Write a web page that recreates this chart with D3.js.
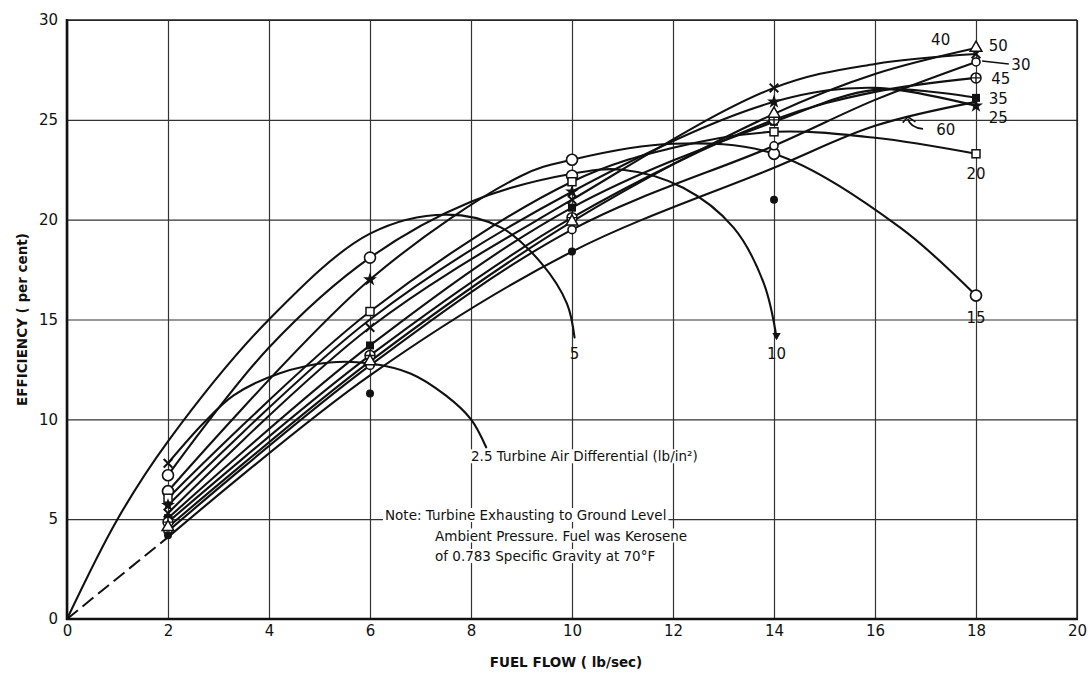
<!DOCTYPE html>
<html>
<head>
<meta charset="utf-8">
<script src="https://cdn.jsdelivr.net/npm/d3@7"></script>
<style>
  html, body { margin: 0; padding: 0; background: #fff; }
  svg { display: block; }
  text { font-family: "DejaVu Sans", sans-serif; fill: #111; }
</style>
</head>
<body>
<svg id="chart" width="1090" height="674"></svg>
<script>
// ---------------- DATA ----------------
const xTicks = [0, 2, 4, 6, 8, 10, 12, 14, 16, 18, 20];
const yTicks = [0, 5, 10, 15, 20, 25, 30];
const seriesNames = ["2.5", "5", "10", "15", "20", "25", "30", "35", "40", "45", "50", "60"];
const markerShapes = ["cross", "none", "circle", "bigCircle", "square", "starFill", "circle", "squareFill", "cross", "circlePlus", "triangle", "dot"];

// curve paths (fuel flow lb/sec, efficiency %)
const curve2_5 = [[2,7.8],[2.7,9.8],[3.3,11.2],[4.2,12.3],[5.2,12.85],[6,12.8],[6.8,12.3],[7.5,11.2],[8.0,10.0],[8.3,8.6]];
const curve5   = [[0,0],[1,5.0],[2,8.9],[4,15.0],[6,19.3],[7.5,20.25],[8.6,19.6],[9.4,17.8],[9.9,15.8],[10.05,14.1]];
const curve10  = [[2,7.2],[4,13.6],[6,18.1],[8,20.9],[10,22.3],[11,22.5],[12.2,21.6],[13.2,19.6],[13.8,16.8],[14.05,14.1]];
const curve15  = [[2,6.4],[6,17.0],[9,22.2],[10,23.0],[12,23.8],[14,23.3],[16.5,19.6],[18,16.2]];
const curve20  = [[2,6.05],[6,15.4],[10,21.9],[12,23.6],[14,24.4],[16,24.1],[18,23.3]];
const curve25  = [[2,5.7],[6,15.0],[10,21.4],[14,25.9],[16,26.6],[18,25.7]];
const curve30  = [[2,4.4],[6,12.7],[10,19.5],[14,23.7],[16,26.0],[18,27.9]];
const curve35  = [[2,5.05],[6,13.7],[10,20.6],[14,24.9],[16,26.5],[18,26.1]];
const curve40  = [[2,5.3],[6,14.6],[10,21.0],[14,26.6],[16,27.8],[18,28.3]];
const curve45  = [[2,4.85],[6,13.2],[10,20.1],[14,25.0],[16,26.4],[18,27.1]];
const curve50  = [[2,4.6],[6,12.9],[10,19.9],[14,25.3],[16,27.3],[18,28.6]];
const curve60  = [[2,4.1],[6,12.2],[10,18.4],[14,22.6],[16,24.7],[18,25.9]];
const curve60Dashed = [[0,0],[2,4.1]];

// measured points (markers)
const marks2_5 = [[2,7.8],[6,12.85]];
const marks5   = [];
const marks10  = [[2,7.2],[6,18.1],[10,22.2]];
const marks15  = [[2,6.4],[10,23.0],[14,23.3],[18,16.2]];
const marks20  = [[2,6.05],[6,15.4],[10,21.9],[14,24.4],[18,23.3]];
const marks25  = [[2,5.7],[6,17.0],[10,21.4],[14,25.9],[18,25.7]];
const marks30  = [[2,4.4],[6,12.7],[10,19.5],[14,23.7],[18,27.9]];
const marks35  = [[2,5.05],[6,13.7],[10,20.6],[14,24.9],[18,26.1]];
const marks40  = [[2,5.3],[6,14.6],[10,21.0],[14,26.6],[18,28.3]];
const marks45  = [[2,4.85],[6,13.2],[10,20.1],[14,25.0],[18,27.1]];
const marks50  = [[2,4.6],[6,12.9],[10,19.9],[14,25.3],[18,28.6]];
const marks60  = [[2,4.2],[6,11.3],[10,18.4],[14,21.0]];

// curve end labels: [text, x, y] in data units
const endLabels = [
  ["40", 17.3, 29.0], ["50", 18.25, 28.7], ["30", 18.7, 27.75], ["45", 18.3, 27.05],
  ["35", 18.25, 26.05], ["25", 18.25, 25.1], ["60", 17.4, 24.5], ["20", 18.0, 22.3],
  ["15", 18.0, 15.1], ["5", 10.05, 13.3], ["10", 14.05, 13.3]
];

const noteLines = ["Note: Turbine Exhausting to Ground Level", "Ambient Pressure. Fuel was Kerosene", "of 0.783 Specific Gravity at 70\u00B0F"];

// ---------------- CHART ----------------
const curves = [curve2_5, curve5, curve10, curve15, curve20, curve25, curve30, curve35, curve40, curve45, curve50, curve60];
const marks = [marks2_5, marks5, marks10, marks15, marks20, marks25, marks30, marks35, marks40, marks45, marks50, marks60];
const table = seriesNames.map((n, i) => ({ name: n, pts: curves[i], marks: marks[i], shape: markerShapes[i] }));

const svg = d3.select("#chart");
const L = 67, R = 1077, T = 20, B = 619;
const x = d3.scaleLinear().domain([0, 20]).range([L, R]);
const y = d3.scaleLinear().domain([0, 30]).range([B, T]);

// grid via axes
const gx = svg.append("g").attr("transform", `translate(0,${B})`)
  .call(d3.axisBottom(x).tickValues(xTicks).tickSize(-(B - T)).tickFormat(d => d));
gx.select(".domain").remove();
gx.selectAll(".tick line").attr("stroke", "#333").attr("stroke-width", 1.2);
gx.selectAll(".tick text").attr("font-size", 15).attr("dy", "0.9em").attr("fill", "#111");

const gy = svg.append("g").attr("transform", `translate(${L},0)`)
  .call(d3.axisLeft(y).tickValues(yTicks).tickSize(-(R - L)).tickFormat(d => d));
gy.select(".domain").remove();
gy.selectAll(".tick line").attr("stroke", "#333").attr("stroke-width", 1.2);
gy.selectAll(".tick text").attr("font-size", 15).attr("x", -9).attr("fill", "#111");

// frame: heavy left & bottom
svg.append("line").attr("x1", L).attr("x2", L).attr("y1", T - 1).attr("y2", B + 1).attr("stroke", "#111").attr("stroke-width", 2.6);
svg.append("line").attr("x1", L - 1).attr("x2", R + 1).attr("y1", B).attr("y2", B).attr("stroke", "#111").attr("stroke-width", 2.6);
svg.append("line").attr("x1", L).attr("x2", R).attr("y1", T).attr("y2", T).attr("stroke", "#222").attr("stroke-width", 1.6);
svg.append("line").attr("x1", R).attr("x2", R).attr("y1", T).attr("y2", B).attr("stroke", "#222").attr("stroke-width", 1.4);

// axis titles
svg.append("text").attr("transform", `translate(27,${(T + B) / 2}) rotate(-90)`)
  .attr("text-anchor", "middle").attr("font-size", 13.5).attr("font-weight", "bold")
  .text("EFFICIENCY ( per cent)");
svg.append("text").attr("x", 566).attr("y", 667).attr("text-anchor", "middle")
  .attr("font-size", 13.5).attr("font-weight", "bold").text("FUEL FLOW ( lb/sec)");

// annotations with white backing (grid broken behind text)
const annG = svg.append("g");
function boxedText(tx, ty, str) {
  const t = annG.append("text").attr("x", tx).attr("y", ty).attr("font-size", 13.5).text(str);
  const bb = t.node().getBBox();
  annG.insert("rect", () => t.node()).attr("x", bb.x - 2).attr("y", bb.y + 1)
    .attr("width", bb.width + 4).attr("height", bb.height - 2).attr("fill", "#fff");
}
boxedText(x(8.0), y(7.9), "2.5  Turbine Air Differential (lb/in\u00B2)");
noteLines.forEach((t, i) => boxedText(i === 0 ? 385 : 435, 520 + i * 20.5, t));

// curves
const line = d3.line().x(d => x(d[0])).y(d => y(d[1])).curve(d3.curveCatmullRom.alpha(0.5));
svg.append("g").selectAll("path").data(table).join("path")
  .attr("d", d => line(d.pts)).attr("fill", "none").attr("stroke", "#111")
  .attr("stroke-width", 2.1).attr("stroke-linecap", "round");
svg.append("path").attr("d", d3.line().x(d => x(d[0])).y(d => y(d[1]))(curve60Dashed))
  .attr("fill", "none").attr("stroke", "#111").attr("stroke-width", 2).attr("stroke-dasharray", "14,6");

// markers
const mg = svg.append("g");
table.forEach(s => {
  s.marks.forEach(p => {
    const cx = x(p[0]), cy = y(p[1]);
    const g = mg.append("g").attr("transform", `translate(${cx},${cy})`);
    switch (s.shape) {
      case "circle":
        g.append("circle").attr("r", s.name === "10" ? 5.5 : 4).attr("fill", "#fff").attr("stroke", "#111").attr("stroke-width", 1.6); break;
      case "bigCircle":
        g.append("circle").attr("r", 5.5).attr("fill", "#fff").attr("stroke", "#111").attr("stroke-width", 1.7); break;
      case "dot":
        g.append("circle").attr("r", 4).attr("fill", "#111"); break;
      case "square":
        g.append("rect").attr("x", -4).attr("y", -4).attr("width", 8).attr("height", 8).attr("fill", "#fff").attr("stroke", "#111").attr("stroke-width", 1.5); break;
      case "squareFill":
        g.append("rect").attr("x", -4).attr("y", -4).attr("width", 8).attr("height", 8).attr("fill", "#111"); break;
      case "triangle":
        g.append("path").attr("d", d3.symbol(d3.symbolTriangle, 60)()).attr("fill", "#fff").attr("stroke", "#111").attr("stroke-width", 1.5); break;
      case "starFill":
        g.append("path").attr("d", d3.symbol(d3.symbolStar, 60)()).attr("fill", "#111"); break;
      case "cross":
        g.append("path").attr("d", d3.symbol(d3.symbolX, 50)()).attr("fill", "none").attr("stroke", "#111").attr("stroke-width", 2); break;
      case "circlePlus":
        g.append("circle").attr("r", 5).attr("fill", "#fff").attr("stroke", "#111").attr("stroke-width", 1.5);
        g.append("path").attr("d", "M-5,0H5M0,-5V5").attr("stroke", "#111").attr("stroke-width", 1.4); break;
    }
  });
});

// end labels
svg.append("g").selectAll("text").data(endLabels).join("text")
  .attr("x", d => x(d[1])).attr("y", d => y(d[2])).attr("text-anchor", d => (d[1] >= 18.2 ? "start" : "middle"))
  .attr("dy", "0.35em").attr("font-size", 15).text(d => d[0]);

// leader for "30" and arrow for "60"
svg.append("path").attr("d", `M${x(18.12)},${y(27.95)} L${x(18.65)},${y(27.8)}`).attr("stroke", "#111").attr("stroke-width", 1.6);
svg.append("path").attr("d", `M${x(16.95)},${y(24.55)} Q${x(16.7)},${y(24.6)} ${x(16.65)},${y(25.05)}`)
  .attr("fill", "none").attr("stroke", "#111").attr("stroke-width", 1.8);
svg.append("path").attr("d", `M${x(16.55)},${y(24.85)} L${x(16.65)},${y(25.15)} L${x(16.8)},${y(24.9)}`)
  .attr("fill", "none").attr("stroke", "#111").attr("stroke-width", 1.6);
// arrow tip on "10" curve end
svg.append("path").attr("d", d3.symbol(d3.symbolTriangle, 30)()).attr("transform", `translate(${x(14.05)},${y(14.2)}) rotate(180)`).attr("fill", "#111");
</script>
</body>
</html>
